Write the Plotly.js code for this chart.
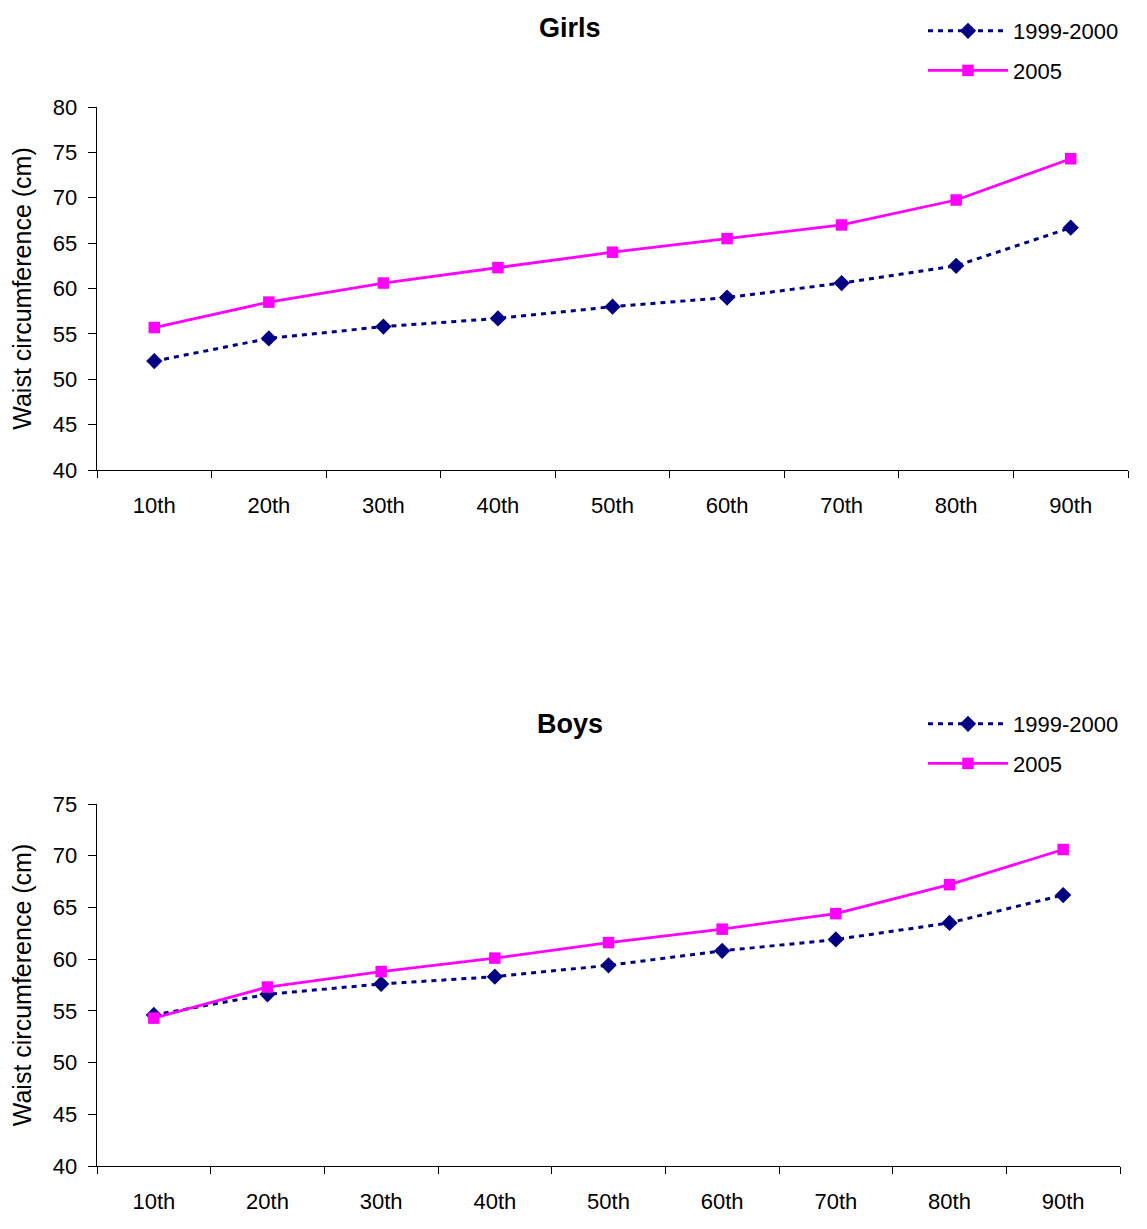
<!DOCTYPE html>
<html>
<head>
<meta charset="utf-8">
<script src="https://cdn.plot.ly/plotly-3.0.1.min.js"></script>
<style>html,body{margin:0;padding:0;background:#fff;}#chart{width:1147px;height:1229px;}</style>
</head>
<body>
<div id="chart"></div>
<script>
const categories = ["10th","20th","30th","40th","50th","60th","70th","80th","90th"];
const seriesNames = ["1999-2000","2005"];
const girls1999 = [52.0, 54.5, 55.8, 56.7, 58.0, 59.0, 60.6, 62.5, 66.7];
const girls2005 = [55.7, 58.5, 60.6, 62.3, 64.0, 65.5, 67.0, 69.75, 74.3];
const boys1999 = [54.6, 56.6, 57.6, 58.3, 59.4, 60.8, 61.9, 63.5, 66.2];
const boys2005 = [54.3, 57.3, 58.8, 60.1, 61.6, 62.9, 64.4, 67.2, 70.6];
const panelTitles = ["Girls","Boys"];
const yTitle = "Waist circumference (cm)";

const W = 1147, H = 1229;
const FONT = "Arial, 'Liberation Sans', sans-serif";
const navy = "#000080", magenta = "#FF00FF";

function styleOld(){ return {mode:"lines+markers", line:{color:navy, width:3, dash:"5px,5px"}, marker:{symbol:"diamond", size:12.5, color:navy}}; }
function styleNew(){ return {mode:"lines+markers", line:{color:magenta, width:2.8}, marker:{symbol:"square", size:11.5, color:magenta}}; }

const traces = [
  Object.assign({x:categories, y:girls1999, name:seriesNames[0], xaxis:"x", yaxis:"y", legend:"legend", legendgroup:"g1"}, styleOld()),
  Object.assign({x:categories, y:girls2005, name:seriesNames[1], xaxis:"x", yaxis:"y", legend:"legend", legendgroup:"g2"}, styleNew()),
  Object.assign({x:categories, y:boys1999, name:seriesNames[0], xaxis:"x2", yaxis:"y2", legend:"legend2", legendgroup:"b1"}, styleOld()),
  Object.assign({x:categories, y:boys2005, name:seriesNames[1], xaxis:"x2", yaxis:"y2", legend:"legend2", legendgroup:"b2"}, styleNew())
];

const mL = 97, mR = W - 1128;
const plotW = W - mL - mR;
function py(pix){ return (H - pix) / H; }

const xCommon = {
  type:"category", showline:true, linecolor:"#000", linewidth:1.3, ticks:"outside", ticklen:7, tickcolor:"#000",
  tickson:"boundaries", showgrid:false, zeroline:false, tickfont:{family:FONT, size:22, color:"#000"}, ticklabelstandoff: 15,
  range:[-0.5, 8.5], fixedrange:true
};
const yCommon = {
  showline:true, linecolor:"#000", linewidth:1.3, ticks:"outside", ticklen:8, tickcolor:"#000", showgrid:false, zeroline:false,
  tickfont:{family:FONT, size:22, color:"#000"}, dtick:5, ticklabelstandoff: 6,
  title:{text:yTitle, font:{family:FONT, size:25, color:"#000"}, standoff:14}
};

const legendCommon = {
  font:{family:FONT, size:22, color:"#000"}, bgcolor:"rgba(0,0,0,0)", borderwidth:0,
  xanchor:"left", yanchor:"top", itemwidth:80, tracegroupgap:8, itemclick:false, itemdoubleclick:false
};

const layout = {
  width:W, height:H, paper_bgcolor:"#fff", plot_bgcolor:"#fff",
  margin:{l:mL, r:mR, t:0, b:0},
  showlegend:true,
  xaxis: Object.assign({}, xCommon, {domain:[0,1], anchor:"y"}),
  yaxis: Object.assign({}, yCommon, {domain:[py(470), py(107)], range:[40,80], anchor:"x"}),
  xaxis2: Object.assign({}, xCommon, {domain:[0,(1120-mL)/plotW], anchor:"y2"}),
  yaxis2: Object.assign({}, yCommon, {domain:[py(1166), py(804)], range:[40,75], anchor:"x2"}),
  legend: Object.assign({}, legendCommon, {x:(923-mL)/plotW, y:py(10)}),
  legend2: Object.assign({}, legendCommon, {x:(923-mL)/plotW, y:py(703)}),
  annotations: [
    {text:"<b>"+panelTitles[0]+"</b>", xref:"paper", yref:"paper", x:(570-mL)/plotW, y:py(28), showarrow:false, font:{family:FONT, size:27, color:"#000"}, xanchor:"center", yanchor:"middle"},
    {text:"<b>"+panelTitles[1]+"</b>", xref:"paper", yref:"paper", x:(570-mL)/plotW, y:py(724), showarrow:false, font:{family:FONT, size:27, color:"#000"}, xanchor:"center", yanchor:"middle"}
  ]
};

Plotly.newPlot("chart", traces, layout, {displayModeBar:false, staticPlot:true});
</script>
</body>
</html>
